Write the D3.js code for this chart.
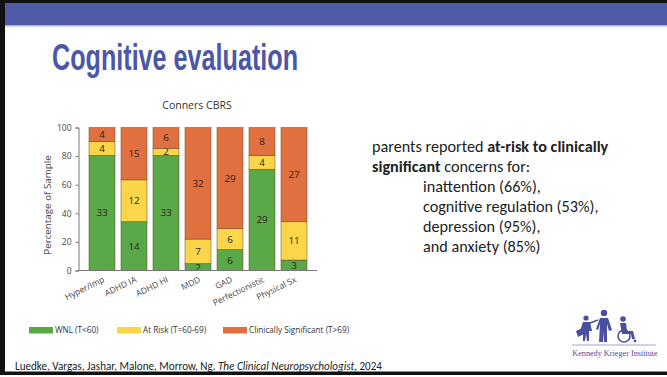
<!DOCTYPE html>
<html>
<head>
<meta charset="utf-8">
<script src="https://cdn.jsdelivr.net/npm/d3@7"></script>
<style>
  html, body { margin: 0; padding: 0; background: #fff; }
  svg { display: block; }
</style>
</head>
<body>
<svg id="slide" width="667" height="377"></svg>
<script>
// Conners CBRS counts per scale (number of children in each range)
const categories = ["Hyper/Imp", "ADHD IA", "ADHD HI", "MDD", "GAD", "Perfectionistic", "Physical Sx"];
const wnl      = [33, 14, 33, 2, 6, 29, 3];
const atRisk   = [4, 12, 2, 7, 6, 4, 11];
const clinSig  = [4, 15, 6, 32, 29, 8, 27];
const yTicks   = [0, 20, 40, 60, 80, 100];
const seriesKeys   = ["wnl", "atRisk", "clinSig"];
const seriesLabels = ["WNL (T<60)", "At Risk (T=60-69)", "Clinically Significant (T>69)"];
const seriesColors = ["#5aa847", "#fbd64b", "#e0703f"];

const svg = d3.select("#slide");
const W = 667, H = 377;
const blue = "#4f5aa8";

// slide frame
svg.append("rect").attr("x", 0).attr("y", 0).attr("width", W).attr("height", H).attr("fill", "#fff");
svg.append("rect").attr("x", 0).attr("y", 0).attr("width", W).attr("height", 3).attr("fill", "#111");
svg.append("rect").attr("x", 0).attr("y", 3).attr("width", W).attr("height", 22.5).attr("fill", blue);
svg.append("rect").attr("x", 0).attr("y", 25.5).attr("width", W).attr("height", 1.2).attr("fill", "#b9bde0");
svg.append("rect").attr("x", 0).attr("y", 0).attr("width", 5).attr("height", 375).attr("fill", "#111");
svg.append("rect").attr("x", 0).attr("y", 371.5).attr("width", W).attr("height", 3.5).attr("fill", "#111");

// slide title
svg.append("text")
  .attr("x", 52).attr("y", 70)
  .attr("font-family", "'Liberation Sans Narrow', 'Arial Narrow', 'Liberation Sans', Arial, sans-serif")
  .attr("font-weight", "bold")
  .attr("font-size", 37)
  .attr("textLength", 246).attr("lengthAdjust", "spacingAndGlyphs")
  .attr("fill", "#4c57a6")
  .text("Cognitive evaluation");

// ---- stacked bar chart ----
const rows = categories.map((c, i) => {
  const total = wnl[i] + atRisk[i] + clinSig[i];
  return {
    cat: c,
    counts: { wnl: wnl[i], atRisk: atRisk[i], clinSig: clinSig[i] },
    wnl: wnl[i] / total * 100,
    atRisk: atRisk[i] / total * 100,
    clinSig: clinSig[i] / total * 100
  };
});

const stacked = d3.stack().keys(seriesKeys)(rows);

const x = d3.scaleBand().domain(categories).range([86, 310])
  .paddingInner(0.1875).paddingOuter(0.09375);
const y = d3.scaleLinear().domain([0, 100]).range([270.5, 127.5]);
const color = d3.scaleOrdinal().domain(seriesKeys).range(seriesColors);

const chart = svg.append("g");
const chartFont = "'Open Sans', 'Noto Sans', sans-serif";

// chart title
chart.append("text")
  .attr("x", 197).attr("y", 109)
  .attr("text-anchor", "middle")
  .attr("font-family", chartFont)
  .attr("font-size", 10.5)
  .attr("fill", "#333")
  .text("Conners CBRS");

// segments
const layer = chart.selectAll("g.layer").data(stacked).join("g")
  .attr("class", "layer")
  .attr("fill", d => color(d.key));

layer.selectAll("rect").data(d => d.map(p => ({ p, key: d.key }))).join("rect")
  .attr("x", d => x(d.p.data.cat))
  .attr("width", x.bandwidth())
  .attr("y", d => y(d.p[1]))
  .attr("height", d => y(d.p[0]) - y(d.p[1]))
  .attr("stroke", "rgba(95,70,35,0.6)")
  .attr("stroke-width", 0.8);

// count labels inside segments
layer.selectAll("text").data(d => d.map(p => ({ p, key: d.key }))).join("text")
  .attr("x", d => x(d.p.data.cat) + x.bandwidth() / 2)
  .attr("y", d => (y(d.p[0]) + y(d.p[1])) / 2)
  .attr("dy", "0.36em")
  .attr("text-anchor", "middle")
  .attr("font-family", chartFont)
  .attr("font-size", 9.8)
  .attr("fill", "#2a2418")
  .text(d => d.p.data.counts[d.key]);

// y axis
const yAxis = chart.append("g")
  .attr("transform", "translate(78.5,0)")
  .call(d3.axisLeft(y).tickValues(yTicks).tickSize(3).tickPadding(4));
yAxis.select(".domain").attr("stroke", "#777");
yAxis.selectAll(".tick line").attr("stroke", "#777");
yAxis.selectAll(".tick text")
  .attr("font-family", chartFont)
  .attr("font-size", 8.5)
  .attr("fill", "#444");

// x axis baseline
chart.append("line")
  .attr("x1", 78.5).attr("x2", 317)
  .attr("y1", y(0)).attr("y2", y(0))
  .attr("stroke", "#777").attr("stroke-width", 1);

// rotated category labels
chart.selectAll("text.cat").data(categories).join("text")
  .attr("class", "cat")
  .attr("text-anchor", "end")
  .attr("font-family", chartFont)
  .attr("font-size", 8.5)
  .attr("fill", "#444")
  .attr("transform", d => `translate(${x(d) + x.bandwidth() / 2 + 3},${y(0) + 11}) rotate(-26)`)
  .text(d => d);

// y axis title
chart.append("text")
  .attr("transform", `translate(51,${(y(0) + y(100)) / 2 + 6}) rotate(-90)`)
  .attr("text-anchor", "middle")
  .attr("font-family", chartFont)
  .attr("font-size", 9.8)
  .attr("fill", "#444")
  .text("Percentage of Sample");

// legend
const legendX = [29, 117, 223];
const legend = chart.selectAll("g.legend").data(seriesKeys).join("g")
  .attr("class", "legend")
  .attr("transform", (d, i) => `translate(${legendX[i]},327)`);
legend.append("rect")
  .attr("width", 24).attr("height", 6.5)
  .attr("fill", d => color(d));
legend.append("text")
  .attr("x", 26).attr("y", 3.5).attr("dy", "0.35em")
  .attr("font-family", chartFont)
  .attr("font-size", 8.2)
  .attr("fill", "#333")
  .text((d, i) => seriesLabels[i]);

// ---- right-hand text ----
const bodyFont = "Carlito, Lato, 'Open Sans', sans-serif";
const notes = svg.append("text")
  .attr("font-family", bodyFont)
  .attr("font-size", 16.2)
  .attr("fill", "#222");
const l1 = notes.append("tspan").attr("x", 372).attr("y", 152);
l1.append("tspan").text("parents reported ");
l1.append("tspan").attr("font-weight", "bold").text("at-risk to clinically");
const l2 = notes.append("tspan").attr("x", 372).attr("y", 172);
l2.append("tspan").attr("font-weight", "bold").text("significant");
l2.append("tspan").text(" concerns for:");
const concerns = ["inattention (66%),", "cognitive regulation (53%),", "depression (95%),", "and anxiety (85%)"];
concerns.forEach((t, i) => {
  notes.append("tspan").attr("x", 423).attr("y", 192 + i * 20).text(t);
});

// citation
const cite = svg.append("text")
  .attr("x", 15).attr("y", 369.5)
  .attr("font-family", bodyFont)
  .attr("font-size", 11.1)
  .attr("fill", "#222");
cite.append("tspan").text("Luedke, Vargas, Jashar, Malone, Morrow, Ng. ");
cite.append("tspan").attr("font-style", "italic").text("The Clinical Neuropsychologist");
cite.append("tspan").text(", 2024");

// ---- institute logo ----
const logo = svg.append("g").attr("fill", "#4a4f9e").attr("stroke", "#4a4f9e");
// child
logo.append("circle").attr("cx", 586).attr("cy", 318).attr("r", 2.6).attr("stroke", "none");
logo.append("path").attr("stroke", "none")
  .attr("d", "M583,322 L590,322 L592,331 L589,331 L589,341 L587,341 L586,334 L585,341 L583,341 L583,331 L580,331 Z");
logo.append("path").attr("stroke", "none")
  .attr("d", "M576,331 L582,328 L584,334 L578,337 Z");
logo.append("line").attr("x1", 590).attr("y1", 323).attr("x2", 598).attr("y2", 320).attr("stroke-width", 1.6);
// adult
logo.append("circle").attr("cx", 604).attr("cy", 313).attr("r", 3.2).attr("stroke", "none");
logo.append("path").attr("stroke", "none")
  .attr("d", "M600,318 L608,318 L612,330 L609,331 L607,324 L607,342 L604,342 L604,332 L603,342 L599,342 L600,324 L598,330 L596,329 Z");
// wheelchair user
logo.append("circle").attr("cx", 623).attr("cy", 319).attr("r", 2.8).attr("stroke", "none");
logo.append("path").attr("stroke", "none")
  .attr("d", "M620,323 L626,323 L627,331 L633,331 L635,339 L632,339 L631,334 L622,334 Z");
logo.append("circle").attr("cx", 624).attr("cy", 336).attr("r", 6).attr("fill", "none").attr("stroke-width", 1.6);
logo.append("circle").attr("cx", 635).attr("cy", 341).attr("r", 1.4).attr("stroke", "none");
// rule and name
svg.append("line").attr("x1", 572).attr("x2", 656).attr("y1", 345).attr("y2", 345)
  .attr("stroke", "#8a8ec4").attr("stroke-width", 0.8);
svg.append("text")
  .attr("x", 615).attr("y", 356)
  .attr("text-anchor", "middle")
  .attr("font-family", "'Liberation Serif', 'DejaVu Serif', serif")
  .attr("font-size", 8.2)
  .attr("fill", "#4a4f9e")
  .text("Kennedy Krieger Institute");
</script>
</body>
</html>
